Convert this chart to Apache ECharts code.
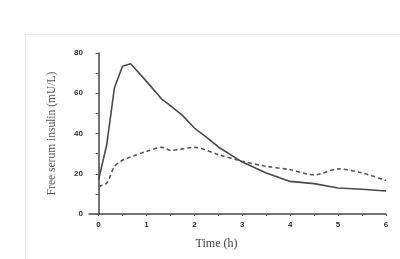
<!DOCTYPE html>
<html><head><meta charset="utf-8">
<script src="https://cdn.jsdelivr.net/npm/echarts@6/dist/echarts.min.js"></script>
<style>
html,body{margin:0;padding:0;background:#fff;}
#frame{position:absolute;left:25px;top:34px;width:400px;height:260px;border-left:1px solid #ececec;border-top:1px solid #ececec;}
#c{position:absolute;left:0;top:0;width:400px;height:259px;}
</style></head>
<body><div id="frame"></div><div id="c"></div>
<script>
const times = [0, 0.17, 0.33, 0.5, 0.67, 1, 1.33, 1.5, 1.75, 2, 2.25, 2.5, 3, 3.5, 4, 4.5, 5, 5.5, 6];
const solidValues = [17.1, 34.4, 62.6, 73.4, 74.7, 65.9, 56.8, 53.8, 49.0, 42.7, 38.2, 33.3, 25.8, 20.4, 16.2, 15.1, 12.9, 12.3, 11.4];
const dashedTimes = [0, 0.17, 0.33, 0.5, 0.67, 1, 1.33, 1.5, 2, 2.5, 3, 3.5, 4, 4.5, 5, 5.5, 6];
const dashedValues = [13.7, 15.4, 23.5, 26.7, 28.3, 31.1, 33.1, 31.6, 33.1, 29.5, 26.2, 23.7, 22.0, 19.4, 22.4, 20.4, 16.6];
const xTickLabels = [0, 1, 2, 3, 4, 5, 6];
const xTicks = [0, 0.5, 1, 1.5, 2, 2.5, 3, 3.5, 4, 4.5, 5, 5.5, 6];
const yTickLabels = [0, 20, 40, 60, 80];
const yTicks = [0, 10, 20, 30, 40, 50, 60, 70, 80];

const chart = echarts.init(document.getElementById('c'), null, {renderer: 'canvas'});
chart.setOption({
  animation: false,
  backgroundColor: 'transparent',
  grid: {left: 89, right: 14, top: 53, bottom: 45},
  xAxis: {
    type: 'value', min: -0.2, max: 6,
    name: 'Time (h)', nameLocation: 'middle', nameGap: 24,
    nameTextStyle: {fontFamily: 'Liberation Serif', fontSize: 12, color: '#444', padding: [0, 42, 0, 0]},
    axisLine: {lineStyle: {color: '#444', width: 1.5}},
    axisTick: {customValues: xTicks, length: 2, lineStyle: {color: '#555', width: 1}},
    axisLabel: {customValues: xTickLabels, margin: 7, fontFamily: 'Liberation Sans', fontWeight: 'bold', fontSize: 8, color: '#333'},
    splitLine: {show: false}
  },
  yAxis: {
    type: 'value', min: 0, max: 80,
    name: 'Free serum insulin (mU/L)', nameLocation: 'middle', nameGap: 31, nameRotate: 90,
    nameTextStyle: {fontFamily: 'Liberation Serif', fontSize: 11.5, color: '#555'},
    axisLine: {show: true, lineStyle: {color: '#444', width: 1.5}},
    axisTick: {show: true, customValues: yTicks, length: 3, lineStyle: {color: '#555', width: 1}},
    axisLabel: {customValues: yTickLabels, margin: 6, fontFamily: 'Liberation Sans', fontWeight: 'bold', fontSize: 8, color: '#333'},
    splitLine: {show: false}
  },
  series: [
    {type: 'line', data: times.map((t, i) => [t, solidValues[i]]), showSymbol: false,
     lineStyle: {color: '#4a4a4a', width: 1.6}},
    {type: 'line', data: dashedTimes.map((t, i) => [t, dashedValues[i]]), showSymbol: false, smooth: 0.3,
     lineStyle: {color: '#555', width: 1.6, type: [4, 3]}}
  ]
});
</script></body></html>
